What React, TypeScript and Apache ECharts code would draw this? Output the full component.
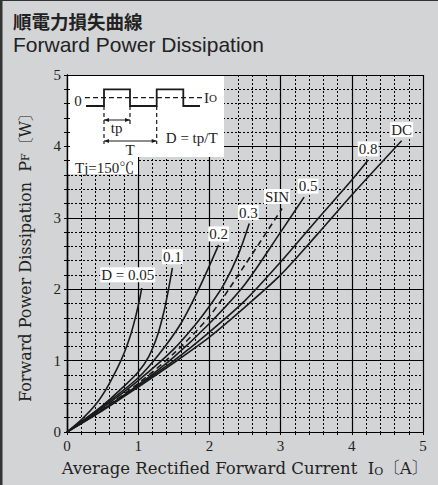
import React, { useEffect, useRef } from "react";
import * as echarts from "echarts";

// ---- data (Io [A], PF [W]) ----
const curveNames = ["D = 0.05", "0.1", "0.2", "0.3", "SIN", "0.5", "0.8", "DC"];
const d005: number[][] = [[0, 0], [0.2, 0.17], [0.4, 0.38], [0.55, 0.6], [0.7, 0.88], [0.8, 1.1], [0.9, 1.38], [0.97, 1.64], [1.02, 1.86], [1.05, 2.02]];
const d01: number[][] = [[0, 0], [0.5, 0.37], [0.8, 0.64], [1.0, 0.84], [1.15, 1.06], [1.27, 1.35], [1.36, 1.68], [1.42, 1.97], [1.48, 2.3]];
const d02: number[][] = [[0, 0], [0.5, 0.36], [1, 0.76], [1.3, 1.1], [1.6, 1.52], [1.85, 2.0], [2.13, 2.62]];
const d03: number[][] = [[0, 0], [0.5, 0.34], [1, 0.72], [1.5, 1.16], [1.8, 1.5], [2, 1.76], [2.2, 2.06], [2.4, 2.47], [2.56, 2.92]];
const dSin: number[][] = [[0, 0], [0.5, 0.32], [1, 0.68], [1.5, 1.1], [2, 1.62], [2.5, 2.34], [3.02, 3.13]];
const d05: number[][] = [[0, 0], [0.5, 0.31], [1, 0.66], [1.5, 1.05], [2, 1.52], [2.5, 2.07], [3, 2.8], [3.33, 3.29]];
const d08: number[][] = [[0, 0], [0.5, 0.31], [1, 0.65], [1.5, 1.0], [2, 1.4], [2.5, 1.84], [3, 2.38], [3.5, 2.96], [4, 3.53], [4.23, 3.81]];
const dDC: number[][] = [[0, 0], [0.5, 0.3], [1, 0.63], [1.5, 0.97], [2, 1.33], [2.5, 1.75], [3, 2.2], [3.5, 2.75], [4, 3.32], [4.7, 4.08]];
const curves = [d005, d01, d02, d03, dSin, d05, d08, dDC];
const xTickLabels = ["0", "1", "2", "3", "4", "5"];
const yTickLabels = ["0", "1", "2", "3", "4", "5"];

// label offsets (style only)
const labelOffsets: number[][] = [[-14, -2], [0, 0], [0, 0], [-1, 0], [-5, -1], [4, 0], [0, 0], [0, 0]];

const SERIF = "'Liberation Serif', 'Noto Serif CJK JP', 'Noto Sans CJK JP', serif";
const WIDE_SERIF = "'DejaVu Serif', 'Noto Serif CJK JP', 'Noto Sans CJK JP', serif";
const INK = "#1a1a1a";

export default function App() {
  const ref = useRef<HTMLDivElement>(null);
  useEffect(() => {
    document.body.style.margin = "0";
    const chart = echarts.init(ref.current!, null, { renderer: "svg" });

    const series: any[] = curves.map((pts, i) => ({
      type: "line",
      name: curveNames[i],
      xAxisIndex: 0,
      yAxisIndex: 0,
      smooth: 0.3,
      symbol: "circle",
      symbolSize: 1,
      showSymbol: true,
      showAllSymbol: true,
      itemStyle: { color: "rgba(0,0,0,0)" },
      lineStyle: { color: INK, width: 1.6, type: curveNames[i] === "SIN" ? [6, 4] : "solid" },
      z: 10,
      label: { show: false },
      data: pts.map((p, j) =>
        j === pts.length - 1
          ? {
              value: p,
              label: {
                show: true,
                position: "top",
                distance: 3,
                offset: labelOffsets[i],
                formatter: curveNames[i],
                fontFamily: SERIF,
                fontSize: 15,
                color: "#222",
                backgroundColor: "#fff",
                padding: [0, 1],
              },
            }
          : p
      ),
    }));

    const tickAxisCommon = {
      min: 0,
      max: 5,
      interval: 1,
      axisLine: { show: true, lineStyle: { color: "#000", width: 1.2 } },
      axisTick: { show: true, inside: true, length: 3, lineStyle: { color: "#000" } },
      minorTick: { show: true, splitNumber: 5, length: 3, lineStyle: { color: "#000" } },
      axisLabel: { show: false },
      splitLine: { show: false },
      z: 6,
    };

    const mainAxis = (labels: string[]) => ({
      min: 0,
      max: 5,
      interval: 1,
      axisLine: { show: true, lineStyle: { color: "#000", width: 1.2 } },
      axisTick: { show: false },
      minorTick: { show: false, splitNumber: 5 },
      splitLine: { show: true, lineStyle: { color: "#000", width: 1.2 } },
      minorSplitLine: { show: true, lineStyle: { color: "#000", width: 1, type: [2, 2] } },
      axisLabel: {
        fontFamily: SERIF,
        fontSize: 15,
        color: "#222",
        margin: 6,
        formatter: (v: number) => labels[Math.round(v)] ?? "",
      },
      z: 0,
    });

    const line = (x1: number, y1: number, x2: number, y2: number, dash?: number[], w = 1.2) => ({
      type: "line",
      z: 7,
      shape: { x1, y1, x2, y2 },
      style: { stroke: INK, lineWidth: w, lineDash: dash },
    });
    const arrowHead = (x: number, y: number, dir: number) => ({
      type: "polygon",
      z: 7,
      shape: { points: [[x, y], [x - dir * 5, y - 2], [x - dir * 5, y + 2]] },
      style: { fill: INK },
    });
    const txt = (x: number, y: number, text: string, extra: any = {}) => ({
      type: "text",
      z: 7,
      x,
      y,
      style: { text, fontFamily: SERIF, fontSize: 15, fill: "#222", align: "center", verticalAlign: "middle", ...extra },
    });

    const option: any = {
      animation: false,
      backgroundColor: "#d3d4d6",
      grid: { left: 67, top: 75, right: 15, bottom: 53, containLabel: false },
      xAxis: [
        {
          type: "value",
          position: "bottom",
          ...mainAxis(xTickLabels),
          name: "{n|Average Rectified Forward Current  I}{s|O}{n|〔A〕}",
          nameLocation: "middle",
          nameGap: 28,
          nameTextStyle: {
            rich: {
              n: { fontFamily: WIDE_SERIF, fontSize: 16.5, color: "#222" },
              s: { fontFamily: WIDE_SERIF, fontSize: 11, color: "#222", verticalAlign: "bottom", padding: [4, 0, 0, 0] },
            },
          },
        },
        { type: "value", position: "top", ...tickAxisCommon },
      ],
      yAxis: [
        {
          type: "value",
          position: "left",
          ...mainAxis(yTickLabels),
          name: "{n|Forward Power Dissipation  P}{s|F}{n|〔W〕}",
          nameLocation: "middle",
          nameRotate: 90,
          nameGap: 34,
          nameTextStyle: {
            rich: {
              n: { fontFamily: WIDE_SERIF, fontSize: 16, color: "#222" },
              s: { fontFamily: WIDE_SERIF, fontSize: 11, color: "#222" },
            },
          },
        },
        { type: "value", position: "right", ...tickAxisCommon },
        { type: "value", position: "left", offset: 0, ...tickAxisCommon },
      ],
      graphic: {
        elements: [
          // frame
          { type: "rect", z: 20, shape: { x: 0, y: 0, width: 2.5, height: 485 }, style: { fill: "#333" } },
          { type: "rect", z: 20, shape: { x: 0, y: 0, width: 438, height: 1 }, style: { fill: "#333" } },
          // titles
          { type: "text", z: 20, x: 13, y: 21, style: { text: "順電力損失曲線", fontFamily: "'Noto Sans CJK JP', sans-serif", fontWeight: "bold", fontSize: 18.5, fill: "#222", verticalAlign: "middle" } },
          { type: "text", z: 20, x: 13, y: 44, style: { text: "Forward Power Dissipation", fontFamily: "'Liberation Sans', Arial, sans-serif", fontSize: 21, fill: "#222", verticalAlign: "middle" } },
          // inset masks
          { type: "rect", z: 5, shape: { x: 68, y: 76, width: 156, height: 81 }, style: { fill: "#fff" } },
          { type: "rect", z: 5, shape: { x: 68, y: 157, width: 70, height: 17 }, style: { fill: "#fff" } },
          // waveform
          {
            type: "polyline",
            z: 7,
            shape: { points: [[86, 106], [104, 106], [104, 89.3], [130, 89.3], [130, 106], [156.7, 106], [156.7, 89.3], [183.3, 89.3], [183.3, 106], [200, 106]] },
            style: { stroke: INK, lineWidth: 1.8, fill: null },
          },
          line(85, 97.7, 203, 97.7, [5, 3]),
          line(104, 106, 104, 144, [4, 3]),
          line(130, 106, 130, 125, [4, 3]),
          line(156.7, 106, 156.7, 144, [4, 3]),
          line(104, 120, 130, 120, undefined, 1),
          arrowHead(104, 120, -1),
          arrowHead(130, 120, 1),
          line(104, 141, 156.7, 141, undefined, 1),
          arrowHead(104, 141, -1),
          arrowHead(156.7, 141, 1),
          txt(78, 101, "0"),
          {
            type: "text",
            z: 7,
            x: 204,
            y: 97.7,
            style: {
              text: "{a|I}{b|O}",
              verticalAlign: "middle",
              rich: {
                a: { fontFamily: SERIF, fontSize: 15, fill: "#222" },
                b: { fontFamily: SERIF, fontSize: 11, fill: "#222" },
              },
            },
          },
          txt(116.7, 128.3, "tp"),
          txt(130, 150, "T"),
          txt(191.7, 138.3, "D = tp/T"),
          txt(75, 168, "Tj=150℃", { align: "left" }),
        ],
      },
      series,
    };
    chart.setOption(option);
    return () => chart.dispose();
  }, []);
  return <div ref={ref} style={{ width: 438, height: 485 }} />;
}
